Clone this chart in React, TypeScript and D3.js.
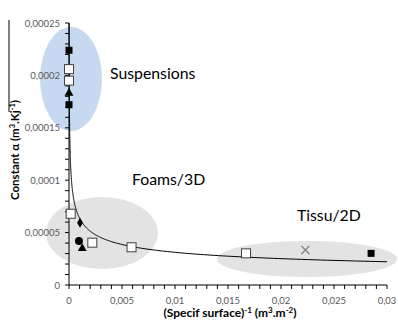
import React from 'react';
import * as d3 from 'd3';

// axis ticks
const xTicks = [0, 0.005, 0.01, 0.015, 0.02, 0.025, 0.03];
const xTickLabels = ['0', '0,005', '0,01', '0,015', '0,02', '0,025', '0,03'];
const yTicks = [0, 0.00005, 0.0001, 0.00015, 0.0002, 0.00025];
const yTickLabels = ['0', '0,00005', '0,0001', '0,00015', '0,0002', '0,00025'];

// measured points, grouped by marker
const filledSquares: [number, number][] = [[0, 0.000224], [0, 0.000172], [0.0285, 0.0000302]];
const openSquares: [number, number][] = [
  [0, 0.000206], [0, 0.000195], [0.00016, 0.000068],
  [0.0022, 0.0000404], [0.0059, 0.000036], [0.0167, 0.0000302]
];
const triangles: [number, number][] = [[0, 0.000183], [0.00125, 0.000035]];
const diamonds: [number, number][] = [[0.00104, 0.0000594]];
const circles: [number, number][] = [[0.00094, 0.000042]];
const crosses: [number, number][] = [[0.0223, 0.0000334]];

// power trendline y = a * x^b (excel fit)
const trendA = 7.48e-6;
const trendB = -0.31;

// material families: ellipse centre / radii and label anchor, in data units
const families = [
  { name: 'Suspensions', cx: 0.00019, cy: 0.0001966, rx: 0.00292, ry: 0.0000496, lx: 0.00387, ly: 0.0001966, fill: '#c6d9f1' },
  { name: 'Foams/3D', cx: 0.00311, cy: 0.0000496, rx: 0.00528, ry: 0.0000344, lx: 0.00594, ly: 0.0000954, fill: '#e3e3e3' },
  { name: 'Tissu/2D', cx: 0.02245, cy: 0.0000248, rx: 0.00849, ry: 0.0000172, lx: 0.0215, ly: 0.0000611, fill: '#e3e3e3' }
];

const W = 398;
const H = 321;
const font = 'Lato, "Liberation Sans", sans-serif';

export default function App() {
  const x = d3.scaleLinear().domain([0, 0.03]).range([69, 387]);
  const y = d3.scaleLinear().domain([0, 0.00025]).range([285, 23]);

  const xMinor = d3.range(0, 0.03 + 1e-9, 0.001);
  const yMinor = d3.range(0, 0.00025 + 1e-12, 0.00001);

  const xStart = Math.pow(0.00025 / trendA, 1 / trendB);
  const trendPts = d3.range(0, 301).map(i => {
    const t = i / 300;
    const xv = Math.exp(Math.log(xStart) + t * (Math.log(0.03) - Math.log(xStart)));
    return [xv, trendA * Math.pow(xv, trendB)] as [number, number];
  });
  const line = d3.line<[number, number]>().x(d => x(d[0])).y(d => y(d[1]));
  const tri = d3.symbol().type(d3.symbolTriangle).size(34)();
  const dia = d3.symbol().type(d3.symbolDiamond).size(30)();

  return (
    <svg width={W} height={H} style={{ position: 'absolute', left: 0, top: 0, background: '#fff' }} fontFamily={font}>
      {families.map(f => (
        <ellipse key={f.name} cx={x(f.cx)} cy={y(f.cy)} rx={x(f.rx) - x(0)} ry={y(0) - y(f.ry)} fill={f.fill} />
      ))}
      {families.map(f => (
        <text key={f.name + 'l'} x={x(f.lx)} y={y(f.ly)} fontSize={15.8} fill="#000">{f.name}</text>
      ))}

      {/* axes */}
      <line x1={x(0)} x2={x(0.03)} y1={y(0)} y2={y(0)} stroke="#000" strokeWidth={1} />
      <line x1={x(0)} x2={x(0)} y1={y(0)} y2={y(0.00025)} stroke="#000" strokeWidth={1} />
      {xMinor.map((v, i) => (
        <line key={'xt' + i} x1={x(v)} x2={x(v)} y1={y(0)} y2={y(0) + 4} stroke="#000" strokeWidth={1} />
      ))}
      {yMinor.map((v, i) => (
        <line key={'yt' + i} x1={x(0) - 4} x2={x(0)} y1={y(v)} y2={y(v)} stroke="#000" strokeWidth={1} />
      ))}
      {xTicks.map((v, i) => (
        <text key={'xl' + i} x={x(v)} y={y(0) + 19} fontSize={9.5} fill="#595959" textAnchor="middle">{xTickLabels[i]}</text>
      ))}
      {yTicks.map((v, i) => (
        <text key={'yl' + i} x={x(0) - 9} y={y(v) + 3.5} fontSize={9.5} fill="#595959" textAnchor="end">{yTickLabels[i]}</text>
      ))}

      {/* trendline */}
      <path d={line(trendPts) || ''} fill="none" stroke="#000" strokeWidth={1} />

      {/* markers */}
      {openSquares.map((d, i) => (
        <rect key={'os' + i} x={x(d[0]) - 4.5} y={y(d[1]) - 4.5} width={9} height={9} fill="#fff" stroke="#404040" strokeWidth={1} />
      ))}
      {filledSquares.map((d, i) => (
        <rect key={'fs' + i} x={x(d[0]) - 3.5} y={y(d[1]) - 3.5} width={7} height={7} fill="#000" />
      ))}
      {triangles.map((d, i) => (
        <path key={'tr' + i} d={tri || ''} transform={`translate(${x(d[0])},${y(d[1])})`} fill="#000" />
      ))}
      {diamonds.map((d, i) => (
        <path key={'di' + i} d={dia || ''} transform={`translate(${x(d[0])},${y(d[1])})`} fill="#000" />
      ))}
      {circles.map((d, i) => (
        <circle key={'ci' + i} cx={x(d[0])} cy={y(d[1])} r={4} fill="#000" />
      ))}
      {crosses.map((d, i) => (
        <path key={'cr' + i} d="M-4,-4L4,4M-4,4L4,-4" transform={`translate(${x(d[0])},${y(d[1])})`} stroke="#7f7f7f" strokeWidth={1.2} fill="none" />
      ))}

      {/* axis titles */}
      <text x={230} y={317} fontSize={12} fontWeight="bold" fill="#000" textAnchor="middle">
        (Specif surface)<tspan dy={-4.5} fontSize={8}>-1</tspan><tspan dy={4.5}> (m</tspan><tspan dy={-4.5} fontSize={8}>3</tspan><tspan dy={4.5}>.m</tspan><tspan dy={-4.5} fontSize={8}>-2</tspan><tspan dy={4.5}>)</tspan>
      </text>
      <text transform="translate(19,150) rotate(-90)" fontSize={11.5} fontWeight="bold" fill="#000" textAnchor="middle">
        Constant α (m<tspan dy={-4} fontSize={7.5}>3</tspan><tspan dy={4}>.Kj</tspan><tspan dy={-4} fontSize={7.5}>-1</tspan><tspan dy={4}>)</tspan>
      </text>
      <line x1={9} x2={9} y1={20} y2={112} stroke="#000" strokeWidth={1} />
    </svg>
  );
}
